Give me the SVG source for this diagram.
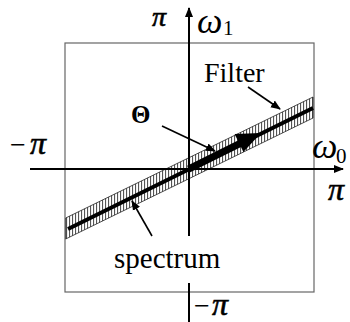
<svg xmlns="http://www.w3.org/2000/svg" width="350" height="322" viewBox="0 0 350 322">
<style>
.t{font-family:"Liberation Serif","Times New Roman",serif;fill:#000}
.i{font-style:italic}
.pi{font-family:"Liberation Serif","Times New Roman",serif;font-style:italic;font-size:32px;fill:#000;stroke:#000;stroke-width:0.6}
.ax{stroke:#000;stroke-width:2;fill:none}
.ptr{stroke:#000;stroke-width:1.6;fill:none}
</style>
<defs>
<pattern id="hatch" width="3" height="4" patternUnits="userSpaceOnUse">
<rect width="3" height="4" fill="#fff"/>
<rect x="0" y="0" width="1.1" height="4" fill="#555"/>
</pattern>
<marker id="ah" viewBox="0 0 10 10" refX="9" refY="5" markerWidth="10" markerHeight="10" markerUnits="userSpaceOnUse" orient="auto">
<path d="M0,1 L10,5 L0,9 Z" fill="#000"/>
</marker>
<marker id="axh" viewBox="0 0 10 10" refX="9" refY="5" markerWidth="10" markerHeight="10" markerUnits="userSpaceOnUse" orient="auto">
<path d="M0,1 L10,5 L0,9 Z" fill="#000"/>
</marker>
</defs>
<g id="frame">
<rect x="65" y="43" width="249" height="249" fill="none" stroke="#666" stroke-width="1.2"/>
</g>
<g id="band">
<polygon points="65.7,218 313,97 313,118 65.7,239" fill="url(#hatch)" stroke="#222" stroke-width="0.8"/>
<line x1="68" y1="229" x2="313" y2="108" stroke="#000" stroke-width="4"/>
</g>
<g id="theta-arrow">
<line x1="188.7" y1="169" x2="241" y2="143" stroke="#000" stroke-width="7"/>
<polygon points="234.6,134 261,133 243.4,152" fill="#000"/>
</g>
<g id="axes">
<line class="ax" x1="30" y1="169" x2="343" y2="169" marker-end="url(#axh)"/>
<line class="ax" x1="189" y1="236" x2="189" y2="8" marker-end="url(#axh)"/>
<line class="ax" x1="189" y1="283" x2="189" y2="322"/>
</g>
<g id="connectors">
<line class="ptr" x1="248" y1="87" x2="280" y2="109" marker-end="url(#ah)"/>
<line class="ptr" x1="162" y1="126" x2="215" y2="151" marker-end="url(#ah)"/>
<line class="ptr" x1="152" y1="236" x2="132" y2="201" marker-end="url(#ah)"/>
</g>
<g id="labels">
<text class="pi" x="152" y="26" style="font-size:28px">π</text>
<text class="t i" x="197" y="33" font-size="36">ω</text>
<text class="t" x="223" y="35" font-size="21">1</text>
<text class="t i" x="312" y="158" font-size="36">ω</text>
<text class="t" x="336" y="163" font-size="21">0</text>
<text class="t" x="10" y="154" font-size="28">−</text>
<text class="pi" x="30" y="154">π</text>
<text class="pi" x="328" y="200">π</text>
<text class="t" x="194" y="315" font-size="28">−</text>
<text class="pi" x="212" y="315">π</text>
<text class="t" x="204" y="82" font-size="28">Filter</text>
<text class="t" x="131" y="123" font-size="25" font-weight="bold">Θ</text>
<text class="t" x="114" y="268" font-size="29">spectrum</text>
</g>
</svg>
